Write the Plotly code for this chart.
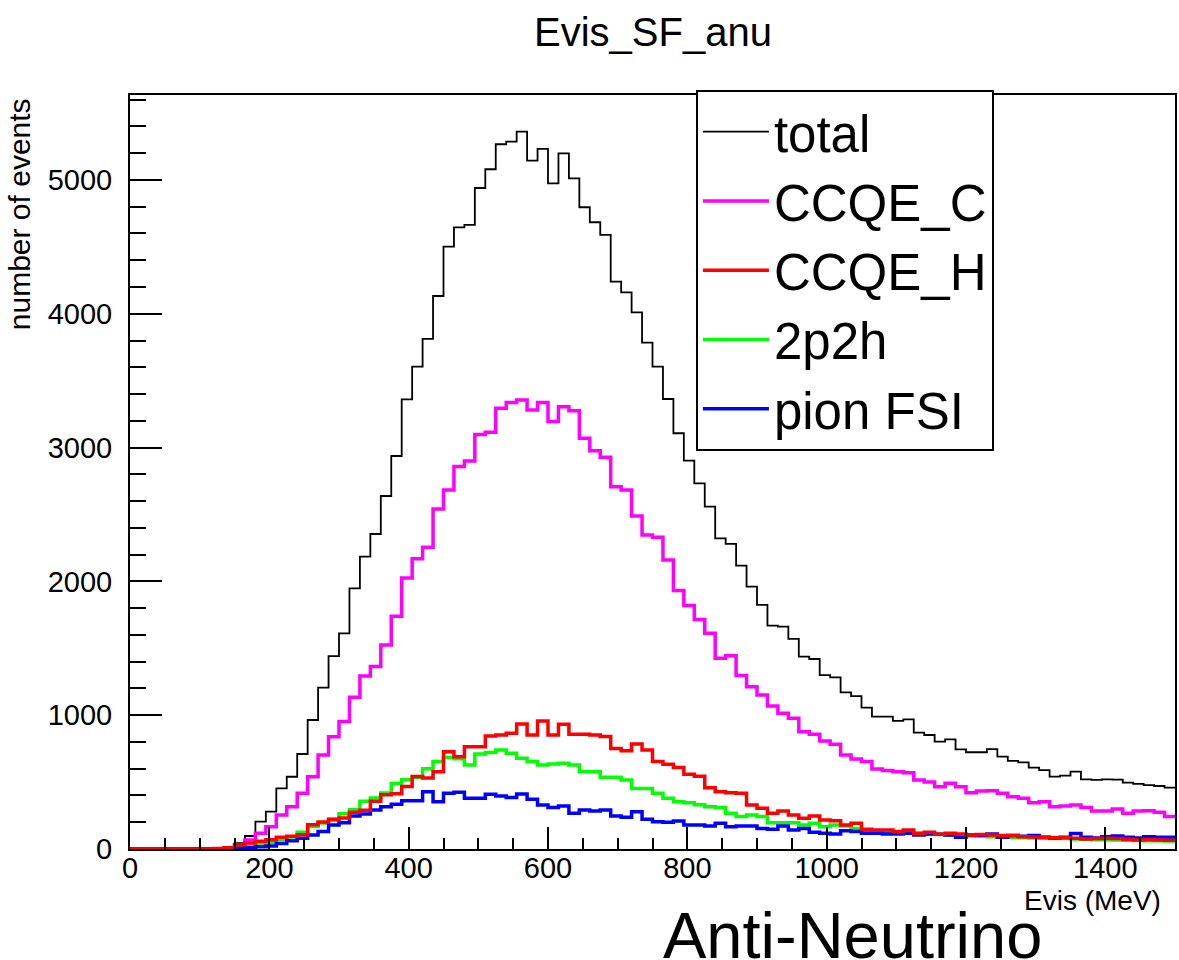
import plotly.graph_objects as go

# ---------------- data ----------------
bin_low_edges = list(range(0, 1500, 15))   # 100 bins of 15 MeV
x_max = 1500

total = [0, 0, 0, 0, 0, 0, 0, 0, 3, 12,
         43, 97, 204, 279, 453, 540, 710, 964, 1206, 1442,
         1612, 1948, 2185, 2354, 2638, 2937, 3361, 3605, 3812, 4133,
         4502, 4646, 4664, 4940, 5080, 5267, 5286, 5361, 5144, 5232,
         4975, 5199, 5012, 4796, 4684, 4589, 4240, 4160, 4011, 3784,
         3605, 3363, 3107, 2902, 2733, 2559, 2322, 2280, 2118, 1961,
         1824, 1669, 1662, 1570, 1438, 1420, 1300, 1283, 1171, 1143,
         1056, 989, 989, 957, 969, 870, 852, 802, 820, 745,
         723, 723, 747, 690, 658, 648, 608, 590, 541, 548,
         578, 521, 516, 521, 518, 496, 486, 478, 471, 458]

ccqe_c = [0, 0, 0, 0, 0, 0, 0, 0, 0, 3,
          25, 67, 117, 167, 254, 316, 416, 540, 703, 839,
          952, 1134, 1293, 1363, 1525, 1740, 2025, 2170, 2255, 2541,
          2683, 2858, 2900, 3097, 3114, 3294, 3336, 3356, 3281, 3336,
          3194, 3306, 3276, 3069, 2977, 2927, 2708, 2683, 2489, 2347,
          2330, 2160, 1931, 1820, 1715, 1612, 1425, 1445, 1296, 1213,
          1151, 1069, 1014, 977, 877, 857, 807, 782, 703, 673,
          653, 598, 586, 578, 570, 516, 500, 466, 491, 466,
          421, 433, 436, 416, 391, 379, 346, 354, 316, 321,
          329, 311, 284, 284, 299, 267, 284, 286, 274, 242]

ccqe_h = [0, 0, 0, 0, 0, 0, 0, 0, 3, 10,
          32, 45, 57, 70, 87, 95, 107, 182, 202, 219,
          232, 274, 289, 356, 406, 413, 467, 541, 530, 578,
          727, 690, 765, 765, 845, 852, 865, 934, 852, 957,
          852, 932, 857, 857, 852, 840, 752, 735, 785, 740,
          653, 633, 610, 558, 543, 458, 428, 421, 416, 329,
          304, 267, 284, 254, 229, 247, 217, 212, 179, 192,
          147, 142, 142, 130, 142, 117, 125, 110, 118, 112,
          105, 108, 105, 100, 100, 92, 90, 88, 85, 85,
          80, 75, 78, 80, 78, 72, 68, 70, 68, 65]

two_p_two_h = [0, 0, 0, 0, 0, 0, 0, 0, 0, 0,
               5, 20, 37, 47, 70, 90, 125, 169, 194, 227,
               264, 294, 356, 381, 418, 490, 518, 535, 600, 653,
               683, 675, 628, 710, 722, 740, 715, 678, 653, 628,
               635, 640, 628, 578, 578, 536, 536, 516, 453, 453,
               416, 379, 354, 345, 330, 316, 311, 267, 242, 254,
               242, 197, 197, 197, 179, 192, 167, 179, 172, 154,
               137, 130, 128, 125, 122, 115, 110, 108, 105, 100,
               98, 95, 92, 90, 88, 85, 82, 80, 78, 78,
               75, 72, 70, 70, 68, 66, 64, 62, 62, 60]

pion_fsi = [0, 0, 0, 0, 0, 0, 0, 0, 0, 0,
            3, 10, 17, 22, 42, 62, 80, 105, 130, 179,
            197, 247, 262, 291, 316, 335, 361, 361, 428, 354,
            416, 424, 379, 379, 409, 396, 384, 411, 371, 329,
            311, 321, 267, 291, 284, 291, 247, 237, 279, 222,
            204, 199, 209, 180, 179, 172, 192, 167, 172, 172,
            154, 147, 172, 142, 154, 125, 117, 112, 137, 130,
            117, 117, 112, 112, 117, 105, 112, 110, 105, 88,
            105, 103, 112, 88, 100, 95, 100, 88, 82, 88,
            115, 88, 82, 92, 97, 88, 82, 92, 88, 88]

series = [
    # name, values, colour, width, legend rank
    ("total", total, "#000000", 1.8, 1),
    ("CCQE_C", ccqe_c, "#ff00ff", 3.5, 2),
    ("2p2h", two_p_two_h, "#00ff00", 3.5, 4),
    ("pion FSI", pion_fsi, "#0000ff", 3.5, 5),
    ("CCQE_H", ccqe_h, "#ff0000", 3.5, 3),
]

fig = go.Figure()
for name, vals, col, w, rank in series:
    fig.add_trace(go.Scatter(
        x=bin_low_edges + [x_max],
        y=vals + [vals[-1]],
        mode="lines",
        line=dict(color=col, width=w, shape="hv"),
        name=name,
        legendrank=rank,
    ))

FONT = "Liberation Sans, Arial, Helvetica, sans-serif"
PL, PR, PT, PB = 130, 2, 95, 111
W, H = 1179, 960
pw, ph = W - PL - PR, H - PT - PB

def px_x(px):
    return (px - PL) / pw

def px_y(py):
    return (H - PB - py) / ph

fig.update_layout(
    width=W, height=H,
    margin=dict(l=PL, r=PR, t=PT, b=PB, pad=0),
    paper_bgcolor="white", plot_bgcolor="white",
    font=dict(family=FONT, color="black"),
    title=dict(text="Evis_SF_anu", font=dict(size=40, family=FONT, color="black"),
               x=653 / W, xanchor="center", y=1 - 32 / H, yanchor="middle",
               xref="container", yref="container"),
    showlegend=True,
    legend=dict(x=px_x(697), y=px_y(90), xanchor="left", yanchor="top",
                bgcolor="white", bordercolor="black", borderwidth=2,
                font=dict(size=51, family=FONT, color="black"),
                tracegroupgap=0, itemwidth=66, entrywidth=250),
    xaxis=dict(range=[0, x_max], tick0=0, dtick=200, tickmode="linear",
               ticks="inside", ticklen=22, tickwidth=1.5, tickcolor="black",
               showline=True, linecolor="black", linewidth=2, mirror=True,
               showgrid=False, zeroline=False,
               tickfont=dict(size=29, family=FONT, color="black"),
               ticklabelstandoff=-8,
               minor=dict(dtick=50, tick0=0, ticks="inside", ticklen=11,
                          tickwidth=1.5, tickcolor="black", showgrid=False)),
    yaxis=dict(range=[0, 5635], tick0=0, dtick=1000, tickmode="linear",
               ticks="inside", ticklen=32, tickwidth=1.5, tickcolor="black",
               showline=True, linecolor="black", linewidth=2, mirror=True,
               showgrid=False, zeroline=False,
               tickfont=dict(size=29, family=FONT, color="black"),
               ticklabelstandoff=10,
               minor=dict(dtick=200, tick0=0, ticks="inside", ticklen=16,
                          tickwidth=1.5, tickcolor="black", showgrid=False)),
    annotations=[
        dict(text="number of events", textangle=-90, xref="paper", yref="paper",
             x=px_x(20), y=px_y(96), xanchor="center", yanchor="top",
             showarrow=False, font=dict(size=30, family=FONT, color="black")),
        dict(text="Evis (MeV)", xref="paper", yref="paper",
             x=px_x(1165), y=px_y(900), xanchor="right", yanchor="middle",
             showarrow=False, font=dict(size=28, family=FONT, color="black")),
        dict(text="Anti-Neutrino", xref="paper", yref="paper",
             x=px_x(662), y=px_y(935), xanchor="left", yanchor="middle",
             showarrow=False, font=dict(size=65, family=FONT, color="black")),
    ],
)

fig.write_html("out.html")
